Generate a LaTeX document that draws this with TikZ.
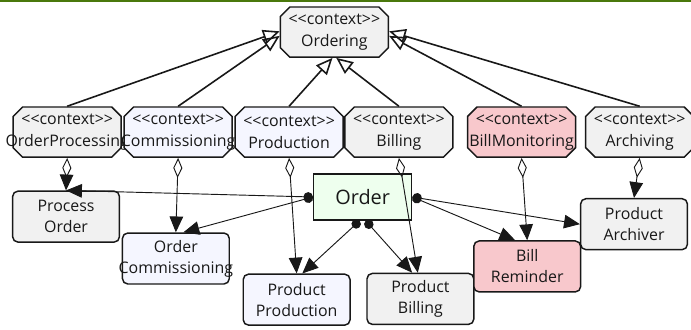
\documentclass[tikz,border=0pt]{standalone}
\usepackage{fontspec}
\setmainfont{Open Sans}
\usepackage{xcolor}
\usetikzlibrary{arrows.meta,shapes.misc}
\definecolor{boxgray}{RGB}{241,241,241}
\definecolor{boxblue}{RGB}{245,246,255}
\definecolor{boxpink}{RGB}{248,200,204}
\definecolor{boxgreen}{RGB}{238,255,238}
\definecolor{edgeblack}{RGB}{24,24,24}
\definecolor{topgreen}{RGB}{74,120,12}
\newcommand{\stereo}{<{}<context>{}>}
\newcommand{\twolines}[2]{\makebox[0pt]{#1}\\\makebox[0pt]{#2}}
\newcommand{\ctxfont}{\fontsize{12}{16.5}\selectfont}
\newcommand{\compfont}{\fontsize{12}{15.8}\selectfont}

\begin{document}
\begin{tikzpicture}[
  ctx/.style={chamfered rectangle,chamfered rectangle xsep=0.25cm,chamfered rectangle ysep=0.25cm,
    draw=edgeblack,line width=1.1pt,minimum width=2.86cm,minimum height=1.33cm,inner sep=0pt,
    align=center,font=\ctxfont,text=edgeblack},
  comp/.style={rectangle,rounded corners=1.4mm,draw=edgeblack,line width=1.1pt,
    minimum width=2.83cm,minimum height=1.35cm,inner sep=0pt,align=center,font=\compfont,text=edgeblack},
  gen/.style={-{Triangle[open,length=0.44cm,width=0.38cm]},line width=1.2pt,edgeblack},
  part/.style={{Diamond[open,length=0.53cm,width=0.24cm]}-{Triangle[length=0.42cm,width=0.36cm]},line width=0.7pt,edgeblack},
  uses/.style={{Circle[length=0.25cm]}-{Triangle[length=0.42cm,width=0.36cm]},line width=0.7pt,edgeblack}]
  \useasboundingbox (0,0) rectangle (18.31,-8.72);
  \draw[topgreen,line width=1.5pt] (0,-0.02) -- (18.31,-0.02);
  % contexts
  \node[ctx,fill=boxgray] (ordering) at (8.86,-0.85) {\twolines{\stereo}{Ordering}};
  \node[ctx,fill=boxgray] (ctxProc) at (1.78,-3.50) {\twolines{\stereo}{OrderProcessing}};
  \node[ctx,fill=boxblue] (ctxComm) at (4.72,-3.50) {\twolines{\stereo}{Commissioning}};
  \node[ctx,fill=boxblue] (ctxProd) at (7.66,-3.50) {\twolines{\stereo}{Production}};
  \node[ctx,fill=boxgray] (ctxBill) at (10.57,-3.50) {\twolines{\stereo}{Billing}};
  \node[ctx,fill=boxpink] (ctxMon) at (13.82,-3.50) {\twolines{\stereo}{BillMonitoring}};
  \node[ctx,fill=boxgray] (ctxArch) at (16.95,-3.50) {\twolines{\stereo}{Archiving}};
  % components
  \node[comp,fill=boxgray] (procOrder) at (1.75,-5.74) {\twolines{Process}{Order}};
  \node[comp,fill=boxblue] (orderComm) at (4.66,-6.85) {\twolines{Order}{Commissioning}};
  \node[comp,fill=boxblue] (prodProd) at (7.86,-7.94) {\twolines{Product}{Production}};
  \node[comp,fill=boxgray] (prodBill) at (11.14,-7.92) {\twolines{Product}{Billing}};
  \node[comp,fill=boxpink] (billRem) at (13.97,-7.06) {\twolines{Bill}{Reminder}};
  \node[comp,fill=boxgray] (prodArch) at (16.80,-5.94) {\twolines{Product}{Archiver}};
  \node[rectangle,draw=edgeblack,line width=1.1pt,fill=boxgreen,minimum width=2.6cm,minimum height=1.22cm,
    font=\fontsize{15}{17}\selectfont,text=edgeblack] (order) at (9.61,-5.22) {Order};
  % generalisation
  \draw[gen] (ctxProc.north) -- ([yshift=0.02cm]ordering.west);
  \draw[gen] (ctxComm.north) -- ([yshift=-0.1cm]ordering.west);
  \draw[gen] (ctxProd.north) -- ([xshift=-0.05cm]ordering.south);
  \draw[gen] (ctxBill.north) -- ([xshift=0.05cm]ordering.south);
  \draw[gen] (ctxMon.north) -- ([yshift=-0.1cm]ordering.east);
  \draw[gen] (ctxArch.north) -- ([yshift=0.02cm]ordering.east);
  % parts
  \draw[part] (ctxProc.south) -- (procOrder.north);
  \draw[part] (ctxComm.south) -- (orderComm.north);
  \draw[part] (ctxProd.south) -- (prodProd.north);
  \draw[part] (ctxBill.south) -- ([xshift=-0.07cm]prodBill.north);
  \draw[part] (ctxMon.south) -- (billRem.north);
  \draw[part] (ctxArch.south) -- (prodArch.north);
  % order usage
  \draw[uses] (order.west) -- (procOrder.north);
  \draw[uses] (order.west) -- ([xshift=0.2cm]orderComm.north);
  \draw[uses] ([xshift=-0.08cm]order.south) -- ([xshift=0.15cm]prodProd.north);
  \draw[uses] ([xshift=0.08cm]order.south) -- ([xshift=-0.22cm]prodBill.north);
  \draw[uses] (order.east) -- ([xshift=-0.32cm]billRem.north);
  \draw[uses] (order.east) -- (prodArch.west);
\end{tikzpicture}
\end{document}
